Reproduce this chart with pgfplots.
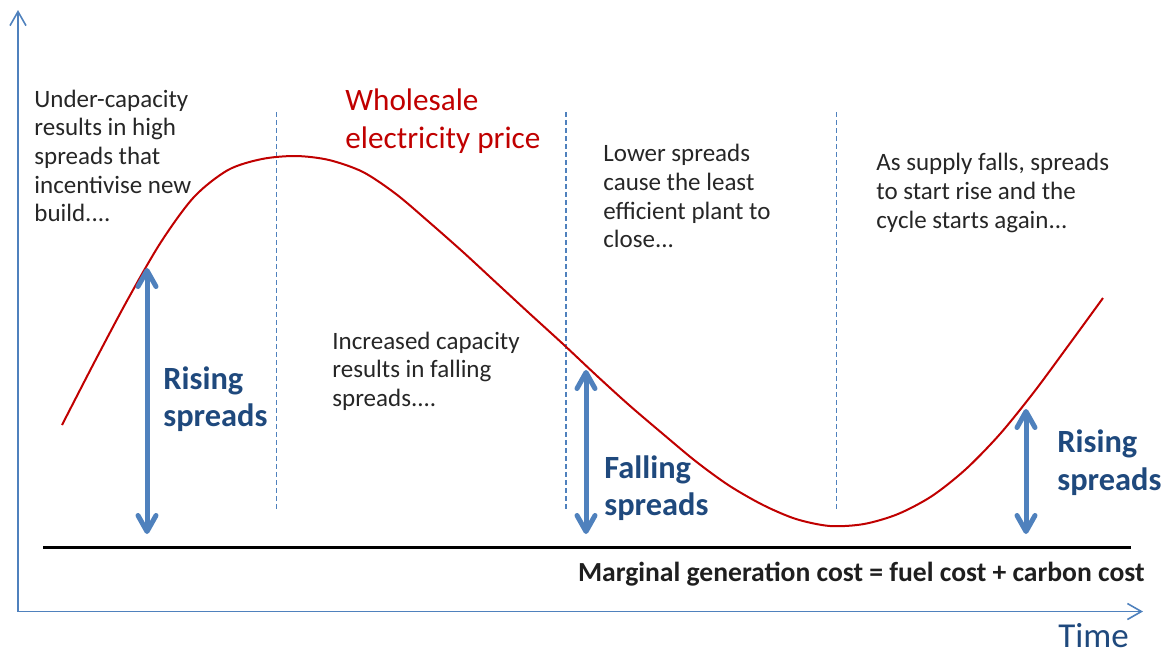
\documentclass[border=0pt]{standalone}
\usepackage{pgfplots}
\pgfplotsset{compat=1.18}
\usetikzlibrary{arrows.meta}
\usepackage{fontspec}
\setmainfont{Carlito}
\definecolor{axisblue}{HTML}{4F81BD}
\definecolor{pricered}{HTML}{C00000}
\definecolor{darkblue}{HTML}{1F497D}
\definecolor{bodytext}{HTML}{262626}

\begin{document}
\begin{tikzpicture}
  \begin{axis}[
    width=584pt,
    height=327.5pt,
    scale only axis,
    hide axis,
    clip=false,
    xmin=0, xmax=1168,
    ymin=0, ymax=655,
    y dir=reverse,
  ]
    \coordinate (bl) at (axis cs:0,655);
    \coordinate (tr) at (axis cs:1168,0);

    % axes
    \draw[axisblue, line width=0.8pt, -{Straight Barb[length=7pt, width=8pt]}]
      (axis cs:18,611.5) -- (axis cs:18,10);
    \draw[axisblue, line width=0.8pt, -{Straight Barb[length=7pt, width=8pt]}]
      (axis cs:18,611.5) -- (axis cs:1143,611.5);

    % marginal cost line
    \draw[black, line width=1.3pt] (axis cs:43,547.5) -- (axis cs:1131,547.5);

    % phase separators
    \draw[axisblue, line width=0.75pt, dash pattern=on 2.5pt off 1.5pt]
      (axis cs:276.5,112) -- (axis cs:276.5,509);
    \draw[axisblue, line width=0.75pt, dash pattern=on 2.5pt off 1.5pt]
      (axis cs:566,112) -- (axis cs:566,509);
    \draw[axisblue, line width=0.75pt, dash pattern=on 2.5pt off 1.5pt]
      (axis cs:836.5,112) -- (axis cs:836.5,509);

    % wholesale price curve
    \addplot[pricered, line width=1pt, smooth] coordinates {
      (62,425) (95,361) (128,299) (161,242) (194,197) (228,170)
      (262,159) (296,156) (329,160) (363,172) (396,194) (429,222)
      (463,252) (496,282.5) (529,313) (563,344) (596,375) (629,405)
      (663,434) (696,461.5) (729,485.5) (763,505) (796,519) (830,526)
      (864,524) (898,514) (932,496) (966,469) (1000,434) (1034,392)
      (1068,346) (1103,298)
    };

    % spread arrows
    \draw[axisblue, line width=2.5pt,
      {Straight Barb[length=8pt, width=9pt, round]}-{Straight Barb[length=8pt, width=9pt, round]}]
      (axis cs:147,268) -- (axis cs:147,534);
    \draw[axisblue, line width=2.5pt,
      {Straight Barb[length=8pt, width=9pt, round]}-{Straight Barb[length=8pt, width=9pt, round]}]
      (axis cs:586,370) -- (axis cs:586,534);
    \draw[axisblue, line width=2.5pt,
      {Straight Barb[length=8pt, width=9pt, round]}-{Straight Barb[length=8pt, width=9pt, round]}]
      (axis cs:1026,409) -- (axis cs:1026,534);

    % body text
    \begin{scope}[every node/.style={anchor=base west, inner sep=0pt, text=bodytext,
        font=\fontsize{12.5pt}{14.4pt}\selectfont}]
      \node at (axis cs:34,107) {Under-capacity};
      \node at (axis cs:34,135.7) {results in high};
      \node at (axis cs:34,164.3) {spreads that};
      \node at (axis cs:34,193) {incentivise new};
      \node at (axis cs:34,221.6) {build....};

      \node at (axis cs:332,349) {Increased capacity};
      \node at (axis cs:332,377.7) {results in falling};
      \node at (axis cs:332,406.4) {spreads....};

      \node at (axis cs:603,161.7) {Lower spreads};
      \node at (axis cs:603,190.4) {cause the least};
      \node at (axis cs:603,219) {efficient plant to};
      \node at (axis cs:603,247.7) {close...};

      \node at (axis cs:876,170.7) {As supply falls, spreads};
      \node at (axis cs:876,199.4) {to start rise and the};
      \node at (axis cs:876,228) {cycle starts again...};
    \end{scope}

    % curve label
    \begin{scope}[every node/.style={anchor=base west, inner sep=0pt, text=pricered,
        font=\fontsize{15.6pt}{18.8pt}\selectfont}]
      \node at (axis cs:345,110.7) {Wholesale};
      \node at (axis cs:345,148.3) {electricity price};
    \end{scope}

    % spread labels
    \begin{scope}[every node/.style={anchor=base west, inner sep=0pt, text=darkblue,
        font=\fontsize{16.2pt}{18.8pt}\selectfont\bfseries}]
      \node at (axis cs:163,389) {Rising};
      \node at (axis cs:163,426.5) {spreads};
      \node at (axis cs:604,478) {Falling};
      \node at (axis cs:604,515.5) {spreads};
      \node at (axis cs:1057,452.7) {Rising};
      \node at (axis cs:1057,490) {spreads};
    \end{scope}

    \node[anchor=base east, inner sep=0pt, text=black!88,
      font=\fontsize{13.8pt}{16pt}\selectfont\bfseries]
      at (axis cs:1145,581) {Marginal generation cost = fuel cost + carbon cost};
    \node[anchor=base west, inner sep=0pt, text=darkblue,
      font=\fontsize{17.5pt}{20pt}\selectfont]
      at (axis cs:1058,647) {Time};
  \end{axis}
  \pgfresetboundingbox
  \path[use as bounding box] (bl) rectangle (tr);
\end{tikzpicture}
\end{document}
